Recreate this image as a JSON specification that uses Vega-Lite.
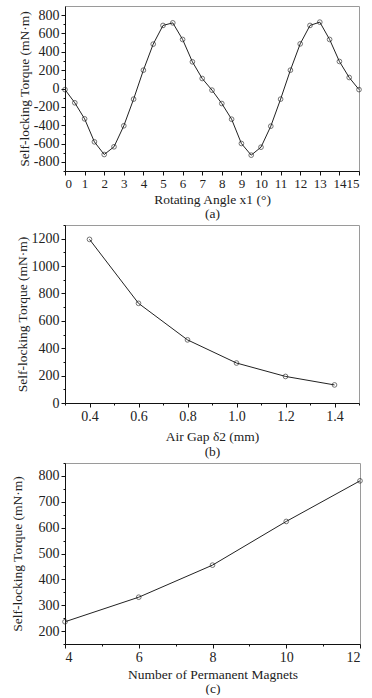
{
  "$schema": "https://vega.github.io/schema/vega-lite/v6.json",
  "background": "white",
  "padding": {"left": 10, "top": 5, "right": 0, "bottom": 0},
  "spacing": 4,
  "config": {
    "font": "Liberation Serif",
    "locale": {"number": {"decimal": ".", "thousands": ",", "grouping": [3], "currency": ["$", ""], "minus": "-"}},
    "view": {"stroke": "#9a9a9a", "strokeWidth": 1},
    "axis": {
      "grid": false,
      "domainColor": "#111",
      "tickColor": "#111",
      "tickSize": 4,
      "labelPadding": 2,
      "labelOverlap": false,
      "labelColor": "#222",
      "titleColor": "#222",
      "labelFontSize": 14,
      "titleFontSize": 13.5,
      "titleFontWeight": "normal",
      "labelFont": "Liberation Serif",
      "titleFont": "Liberation Serif"
    }
  },
  "datasets": {
    "a": [
      {"x": 0, "y": -12}, {"x": 0.5, "y": -156}, {"x": 1, "y": -331}, {"x": 1.5, "y": -582},
      {"x": 2, "y": -720}, {"x": 2.5, "y": -636}, {"x": 3, "y": -407}, {"x": 3.5, "y": -116},
      {"x": 4, "y": 200}, {"x": 4.5, "y": 484}, {"x": 5, "y": 688}, {"x": 5.5, "y": 716},
      {"x": 6, "y": 535}, {"x": 6.5, "y": 291}, {"x": 7, "y": 109}, {"x": 7.5, "y": -18},
      {"x": 8, "y": -164}, {"x": 8.5, "y": -335}, {"x": 9, "y": -600}, {"x": 9.5, "y": -727},
      {"x": 10, "y": -640}, {"x": 10.5, "y": -411}, {"x": 11, "y": -116}, {"x": 11.5, "y": 200},
      {"x": 12, "y": 487}, {"x": 12.5, "y": 688}, {"x": 13, "y": 724}, {"x": 13.5, "y": 535},
      {"x": 14, "y": 295}, {"x": 14.5, "y": 120}, {"x": 15, "y": -12}
    ],
    "b": [
      {"x": 0.4, "y": 1195}, {"x": 0.6, "y": 728}, {"x": 0.8, "y": 461},
      {"x": 1.0, "y": 292}, {"x": 1.2, "y": 194}, {"x": 1.4, "y": 132}
    ],
    "c": [
      {"x": 4, "y": 236}, {"x": 6, "y": 331}, {"x": 8, "y": 455},
      {"x": 10, "y": 624}, {"x": 12, "y": 781}
    ]
  },
  "vconcat": [
    {
      "width": 294,
      "height": 165,
      "data": {"name": "a"},
      "resolve": {"axis": {"x": "independent", "y": "independent"}},
      "layer": [
        {
          "mark": {"type": "line", "color": "#222", "strokeWidth": 1},
          "encoding": {
            "x": {"field": "x", "type": "quantitative", "scale": {"domain": [0, 15], "nice": false},
              "axis": {"orient": "bottom", "values": [0,1,2,3,4,5,6,7,8,9,10,11,12,13,14,15], "labelFontSize": 13, "title": ["Rotating Angle x1 (°)", "(a)"], "titleLineHeight": 14, "titlePadding": 2}},
            "y": {"field": "y", "type": "quantitative", "scale": {"domain": [-900, 900], "nice": false},
              "axis": {"orient": "left", "values": [-800,-600,-400,-200,0,200,400,600,800], "title": "Self-locking Torque (mN·m)", "titlePadding": 2}}
          }
        },
        {
          "mark": {"type": "point", "shape": "circle", "size": 22, "filled": false, "stroke": "#222", "strokeWidth": 0.9},
          "encoding": {
            "x": {"field": "x", "type": "quantitative", "axis": null},
            "y": {"field": "y", "type": "quantitative", "axis": null}
          }
        },
        {
          "mark": {"type": "line", "strokeOpacity": 0},
          "encoding": {
            "x": {"field": "x", "type": "quantitative", "axis": null},
            "y": {"field": "y", "type": "quantitative",
              "axis": {"orient": "left", "values": [-900,-700,-500,-300,-100,100,300,500,700], "labels": false, "domain": false, "tickSize": 2, "title": null}}
          }
        }
      ]
    },
    {
      "width": 294,
      "height": 178,
      "data": {"name": "b"},
      "resolve": {"axis": {"x": "independent", "y": "independent"}},
      "layer": [
        {
          "mark": {"type": "line", "color": "#222", "strokeWidth": 1},
          "encoding": {
            "x": {"field": "x", "type": "quantitative", "scale": {"domain": [0.3, 1.5], "nice": false, "zero": false},
              "axis": {"orient": "bottom", "values": [0.4,0.6,0.8,1.0,1.2,1.4], "format": ".1f", "title": ["Air Gap δ2 (mm)", "(b)"], "titleLineHeight": 15, "titlePadding": 6}},
            "y": {"field": "y", "type": "quantitative", "scale": {"domain": [0, 1300], "nice": false},
              "axis": {"orient": "left", "values": [0,200,400,600,800,1000,1200], "format": "d", "title": "Self-locking Torque (mN·m)", "titlePadding": 2}}
          }
        },
        {
          "mark": {"type": "point", "shape": "circle", "size": 22, "filled": false, "stroke": "#222", "strokeWidth": 0.9},
          "encoding": {
            "x": {"field": "x", "type": "quantitative", "axis": null},
            "y": {"field": "y", "type": "quantitative", "axis": null}
          }
        },
        {
          "mark": {"type": "line", "strokeOpacity": 0},
          "encoding": {
            "x": {"field": "x", "type": "quantitative",
              "axis": {"orient": "bottom", "values": [0.3,0.5,0.7,0.9,1.1,1.3,1.5], "labels": false, "domain": false, "tickSize": 2, "title": null}},
            "y": {"field": "y", "type": "quantitative",
              "axis": {"orient": "left", "values": [100,300,500,700,900,1100,1300], "labels": false, "domain": false, "tickSize": 2, "title": null}}
          }
        }
      ]
    },
    {
      "width": 295,
      "height": 181,
      "data": {"name": "c"},
      "resolve": {"axis": {"x": "independent", "y": "independent"}},
      "layer": [
        {
          "mark": {"type": "line", "color": "#222", "strokeWidth": 1},
          "encoding": {
            "x": {"field": "x", "type": "quantitative", "scale": {"domain": [4, 12], "nice": false, "zero": false},
              "axis": {"orient": "bottom", "values": [4,6,8,10,12], "title": ["Number of Permanent Magnets", "(c)"], "titleLineHeight": 14, "titlePadding": 3}},
            "y": {"field": "y", "type": "quantitative", "scale": {"domain": [150, 850], "nice": false, "zero": false},
              "axis": {"orient": "left", "values": [200,300,400,500,600,700,800], "title": "Self-locking Torque (mN·m)", "titlePadding": 13.5}}
          }
        },
        {
          "mark": {"type": "point", "shape": "circle", "size": 22, "filled": false, "stroke": "#222", "strokeWidth": 0.9},
          "encoding": {
            "x": {"field": "x", "type": "quantitative", "axis": null},
            "y": {"field": "y", "type": "quantitative", "axis": null}
          }
        },
        {
          "mark": {"type": "line", "strokeOpacity": 0},
          "encoding": {
            "x": {"field": "x", "type": "quantitative",
              "axis": {"orient": "bottom", "values": [5,7,9,11], "labels": false, "domain": false, "tickSize": 2, "title": null}},
            "y": {"field": "y", "type": "quantitative",
              "axis": {"orient": "left", "values": [150,250,350,450,550,650,750,850], "labels": false, "domain": false, "tickSize": 2, "title": null}}
          }
        }
      ]
    }
  ]
}
